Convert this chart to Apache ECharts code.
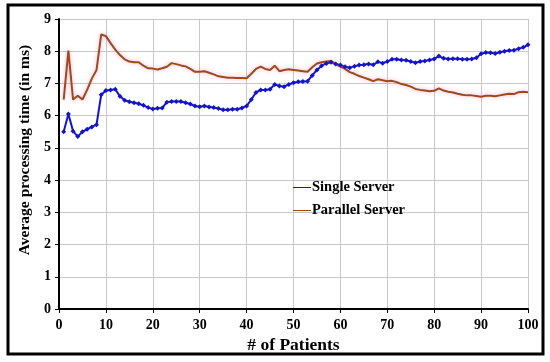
<!DOCTYPE html>
<html><head><meta charset="utf-8">
<script src="https://cdn.jsdelivr.net/npm/echarts@6/dist/echarts.min.js"></script>
<style>html,body{margin:0;padding:0;background:#fff}#c{width:550px;height:362px}</style>
</head><body><div id="c"></div>
<script>
const patients = Array.from({length:100},(_,i)=>i+1);
const singleServer = [5.5,6.05,5.52,5.35,5.5,5.58,5.65,5.72,6.65,6.78,
6.8,6.82,6.6,6.48,6.43,6.4,6.37,6.32,6.25,6.21,
6.23,6.24,6.42,6.44,6.44,6.44,6.4,6.36,6.3,6.28,
6.3,6.27,6.25,6.22,6.18,6.18,6.2,6.2,6.24,6.3,
6.5,6.72,6.8,6.8,6.82,6.97,6.92,6.9,6.97,7.02,
7.05,7.06,7.07,7.25,7.42,7.55,7.62,7.66,7.6,7.57,
7.52,7.49,7.53,7.57,7.58,7.6,7.58,7.67,7.63,7.68,
7.75,7.75,7.73,7.72,7.68,7.64,7.68,7.7,7.73,7.76,
7.85,7.78,7.76,7.77,7.77,7.75,7.75,7.76,7.8,7.92,
7.96,7.95,7.93,7.97,8.0,8.02,8.03,8.08,8.12,8.2];
const parallelServer = [6.5,8.02,6.5,6.62,6.5,6.8,7.15,7.42,8.52,8.47,
8.25,8.05,7.88,7.75,7.68,7.66,7.66,7.55,7.47,7.46,
7.43,7.47,7.52,7.63,7.6,7.56,7.53,7.45,7.36,7.36,
7.38,7.33,7.28,7.22,7.2,7.18,7.18,7.17,7.17,7.16,
7.3,7.45,7.52,7.45,7.42,7.55,7.38,7.42,7.44,7.42,
7.4,7.38,7.36,7.5,7.62,7.66,7.68,7.7,7.6,7.52,
7.45,7.35,7.3,7.23,7.18,7.13,7.07,7.13,7.1,7.07,
7.08,7.04,6.98,6.95,6.9,6.83,6.8,6.78,6.76,6.77,
6.85,6.78,6.74,6.72,6.68,6.65,6.63,6.63,6.61,6.59,
6.62,6.62,6.6,6.63,6.66,6.68,6.67,6.73,6.74,6.73];
const seriesNames = ['Single Server','Parallel Server'];
const xTitle = '# of Patients';
const yTitle = 'Average processing time (in ms)';

const font = 'Liberation Serif';
const chart = echarts.init(document.getElementById('c'), null, {renderer:'canvas'});
chart.setOption({
  backgroundColor:'#fff',
  animation:false,
  graphic:[{type:'rect',shape:{x:8,y:5,width:535,height:349},style:{fill:'none',stroke:'#000',lineWidth:3},z:-1}],
  grid:{left:59,right:22,top:19,bottom:53},
  legend:{orient:'vertical',left:288,top:175,itemGap:8,itemWidth:18,itemHeight:8,
    textStyle:{fontFamily:font,fontWeight:'bold',fontSize:14.5,color:'#000',padding:[0,0,0,-4]},
    data:seriesNames.map(n=>({name:n,icon:'path://M0,4L18,4L18,5L0,5Z'}))},
  xAxis:{type:'value',min:0,max:100,interval:10,name:xTitle,nameLocation:'middle',nameGap:22,
    nameTextStyle:{fontFamily:font,fontWeight:'bold',fontSize:17.5,color:'#000'},
    axisLine:{lineStyle:{color:'#000',width:2}},axisTick:{show:true,length:4,lineStyle:{color:'#000'}},
    axisLabel:{fontFamily:font,fontWeight:'bold',fontSize:14,color:'#000',margin:9},
    splitLine:{show:true,lineStyle:{color:'#c8c8c8',width:1}}},
  yAxis:{type:'value',min:0,max:9,interval:1,name:yTitle,nameLocation:'middle',nameGap:22,
    nameTextStyle:{fontFamily:font,fontWeight:'bold',fontSize:15.5,color:'#000',padding:[0,0,0,28]},
    axisLine:{show:true,lineStyle:{color:'#000',width:2}},axisTick:{show:true,length:4,lineStyle:{color:'#000'}},
    axisLabel:{fontFamily:font,fontWeight:'bold',fontSize:14,color:'#000',margin:8},
    splitLine:{show:true,lineStyle:{color:'#c8c8c8',width:1}}},
  series:[
    {name:seriesNames[0],type:'line',data:patients.map((p,i)=>[p,singleServer[i]]),
     symbol:'diamond',symbolSize:5,showSymbol:true,color:'#1414cc',
     lineStyle:{color:'#1414cc',width:2},itemStyle:{color:'#1414cc'}},
    {name:seriesNames[1],type:'line',data:patients.map((p,i)=>[p,parallelServer[i]]),
     symbol:'none',color:'#9a4a1e',
     lineStyle:{color:'#9a4a1e',width:2,shadowColor:'rgba(255,120,170,0.6)',shadowBlur:4},itemStyle:{color:'#9a4a1e'}}
  ]
});
</script></body></html>
